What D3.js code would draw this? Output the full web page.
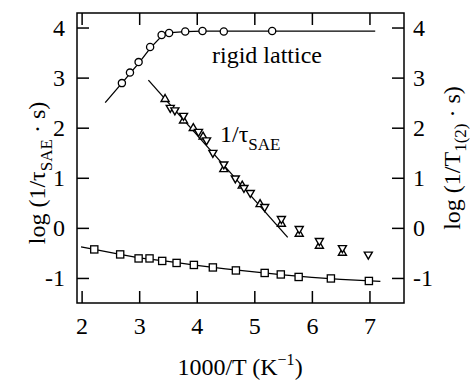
<!DOCTYPE html>
<html>
<head>
<meta charset="utf-8">
<script src="https://cdn.jsdelivr.net/npm/d3@7"></script>
<style>
  body { margin: 0; background: #fff; }
  text { font-family: "Liberation Serif", "DejaVu Serif", serif; fill: #000; }
</style>
</head>
<body>
<div class="chart"></div>
<script>
// rigid lattice points (circles)
var rigidX = [2.70, 2.84, 2.99, 3.19, 3.39, 3.52, 3.80, 4.10, 4.47, 5.31];
var rigidY = [2.89, 3.10, 3.31, 3.61, 3.85, 3.89, 3.92, 3.93, 3.92, 3.93];
var rigidFitX = [2.41, 2.70, 3.00, 3.20, 3.40, 3.55, 3.80, 4.10, 7.10];
var rigidFitY = [2.50, 2.89, 3.30, 3.60, 3.84, 3.90, 3.92, 3.93, 3.93];

// 1/tau_SAE, up triangles and down triangles
var upX = [3.45, 3.77, 3.94, 4.11, 4.47, 4.79, 5.10, 5.47, 5.78, 6.13, 6.53];
var upY = [2.57, 2.14, 1.99, 1.82, 1.17, 0.84, 0.47, 0.08, -0.12, -0.36, -0.50];
var downX = [3.54, 3.62, 3.77, 4.03, 4.17, 4.28, 4.47, 4.67, 4.82, 4.93, 5.18, 5.47, 5.78, 6.13, 6.53, 6.98];
var downY = [2.40, 2.35, 2.24, 1.92, 1.75, 1.50, 1.27, 0.99, 0.80, 0.70, 0.42, 0.18, -0.02, -0.26, -0.40, -0.53];
var saeFitX = [3.16, 5.58];
var saeFitY = [2.95, -0.19];

// 1/T1(2) (squares)
var sqX = [2.22, 2.67, 2.99, 3.18, 3.40, 3.65, 3.95, 4.28, 4.68, 5.18, 5.46, 5.77, 6.33, 6.99];
var sqY = [-0.43, -0.53, -0.61, -0.61, -0.66, -0.70, -0.74, -0.79, -0.85, -0.90, -0.93, -0.98, -1.01, -1.06];
var sqFitX = [1.99, 2.22, 2.67, 3.00, 3.50, 4.00, 4.50, 5.00, 5.50, 6.00, 6.50, 7.19];
var sqFitY = [-0.38, -0.43, -0.53, -0.60, -0.67, -0.75, -0.82, -0.88, -0.94, -0.99, -1.03, -1.07];

var xTicks = [2, 3, 4, 5, 6, 7];
var yTicks = [-1, 0, 1, 2, 3, 4];

var svgWidth = 475;
var svgHeight = 380;

var svg = d3.select(".chart")
    .append("svg")
    .attr("width", svgWidth)
    .attr("height", svgHeight);

var xScale = d3.scaleLinear().domain([1.92, 7.6]).range([77, 404]);
var yScale = d3.scaleLinear().domain([-1.5, 4.29]).range([303, 13]);

var zip = (xs, ys) => xs.map((x, i) => [x, ys[i]]);
var plain = d => String(d);   // keep hyphen minus like the original

// axes, ticks pointing inward
var tickLen = 12;
svg.append("g")
    .attr("transform", "translate(0,303)")
    .call(d3.axisBottom(xScale).tickValues(xTicks).tickSize(-tickLen).tickPadding(14).tickFormat(plain))
    .call(g => g.select(".domain").remove());
svg.append("g")
    .attr("transform", "translate(0,13)")
    .call(d3.axisTop(xScale).tickValues(xTicks).tickSize(-tickLen).tickFormat(""))
    .call(g => g.select(".domain").remove());
svg.append("g")
    .attr("transform", "translate(77,0)")
    .call(d3.axisLeft(yScale).tickValues(yTicks).tickSize(-tickLen).tickPadding(12).tickFormat(plain))
    .call(g => g.select(".domain").remove());
svg.append("g")
    .attr("transform", "translate(404,0)")
    .call(d3.axisRight(yScale).tickValues(yTicks).tickSize(-tickLen).tickPadding(9).tickFormat(plain))
    .call(g => g.select(".domain").remove());

svg.selectAll(".tick line").attr("stroke", "#000").attr("stroke-width", 1.5);
svg.selectAll(".tick text").attr("font-size", 24).attr("font-family", "Liberation Serif");

svg.append("rect")
    .attr("x", 77).attr("y", 13)
    .attr("width", 327).attr("height", 290)
    .attr("fill", "none")
    .attr("stroke", "#000")
    .attr("stroke-width", 1.5);

var line = d3.line().x(d => xScale(d[0])).y(d => yScale(d[1]));

[zip(rigidFitX, rigidFitY), zip(saeFitX, saeFitY), zip(sqFitX, sqFitY)].forEach(function (pts) {
    svg.append("path")
        .datum(pts)
        .attr("fill", "none")
        .attr("stroke", "#000")
        .attr("stroke-width", 1.3)
        .attr("d", line);
});

// markers
svg.selectAll(".circ")
    .data(zip(rigidX, rigidY))
    .enter().append("circle")
    .attr("cx", d => xScale(d[0]))
    .attr("cy", d => yScale(d[1]))
    .attr("r", 3.6)
    .attr("fill", "#fff")
    .attr("stroke", "#000")
    .attr("stroke-width", 1.3);

svg.selectAll(".sq")
    .data(zip(sqX, sqY))
    .enter().append("rect")
    .attr("x", d => xScale(d[0]) - 3.6)
    .attr("y", d => yScale(d[1]) - 3.6)
    .attr("width", 7.2)
    .attr("height", 7.2)
    .attr("fill", "#fff")
    .attr("stroke", "#000")
    .attr("stroke-width", 1.3);

var triUp = d3.symbol().type(d3.symbolTriangle).size(28);
svg.selectAll(".up")
    .data(zip(upX, upY))
    .enter().append("path")
    .attr("d", triUp)
    .attr("transform", d => `translate(${xScale(d[0])},${yScale(d[1])})`)
    .attr("fill", "#fff")
    .attr("stroke", "#000")
    .attr("stroke-width", 1.4);
svg.selectAll(".down")
    .data(zip(downX, downY))
    .enter().append("path")
    .attr("d", triUp)
    .attr("transform", d => `translate(${xScale(d[0])},${yScale(d[1])}) rotate(180)`)
    .attr("fill", "#fff")
    .attr("stroke", "#000")
    .attr("stroke-width", 1.4);

// annotations
svg.append("text")
    .attr("x", 212).attr("y", 63)
    .attr("font-size", 24)
    .text("rigid lattice");

var sae = svg.append("text")
    .attr("x", 220).attr("y", 142)
    .attr("font-size", 24);
sae.append("tspan").text("1/τ");
sae.append("tspan").attr("font-size", 17).attr("dy", 8).text("SAE");

// axis titles
var xl = svg.append("text")
    .attr("x", 240).attr("y", 375)
    .attr("text-anchor", "middle")
    .attr("font-size", 24);
xl.append("tspan").text("1000/T (K");
xl.append("tspan").attr("font-size", 16).attr("dy", -10).text("−1");
xl.append("tspan").attr("dy", 10).text(")");

var yl = svg.append("text")
    .attr("transform", "translate(45,173) rotate(-90)")
    .attr("text-anchor", "middle")
    .attr("font-size", 24);
yl.append("tspan").text("log (1/τ");
yl.append("tspan").attr("font-size", 17).attr("dy", 7).text("SAE");
yl.append("tspan").attr("dy", -7).text(" · s)");

var yr = svg.append("text")
    .attr("transform", "translate(460,158) rotate(-90)")
    .attr("text-anchor", "middle")
    .attr("font-size", 24);
yr.append("tspan").text("log (1/T");
yr.append("tspan").attr("font-size", 17).attr("dy", 6).text("1(2)");
yr.append("tspan").attr("dy", -6).text(" · s)");
</script>
</body>
</html>
